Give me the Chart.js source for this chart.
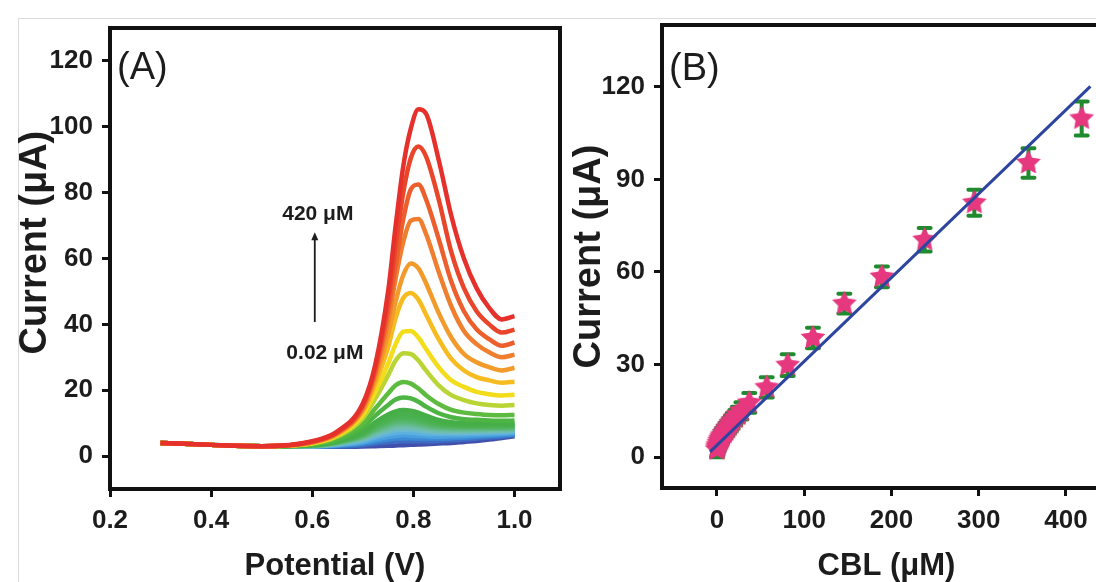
<!DOCTYPE html>
<html lang="en">
<head>
<meta charset="UTF-8">
<title>CBL DPV response</title>
<script src="https://cdn.jsdelivr.net/npm/chart.js"></script>
<style>
    html, body { margin: 0; padding: 0; background: #fff; overflow: hidden; width: 1096px; height: 582px; }
    #edge { position: absolute; left: 18px; top: 18px; width: 1078px; height: 564px; border-top: 1px solid #dcdcdc; border-left: 1px solid #dcdcdc; }
    #chartA { position: absolute; left: 0; top: 0; }
    #chartB { position: absolute; left: 566px; top: 0; }
</style>
</head>
<body>
<div id="edge"></div>
<canvas id="chartA" width="566" height="582"></canvas>
<canvas id="chartB" width="550" height="582"></canvas>
<script>
// ---- panel A: DPV curves, 0.02 uM (bottom) ... 420 uM (top) ----
var potential = [0.30, 0.40, 0.50, 0.60, 0.65, 0.70, 0.725, 0.75, 0.765, 0.78, 0.795, 0.81, 0.825, 0.85, 0.875, 0.90, 0.925, 0.95, 0.975, 1.00];

// first row = highest concentration (drawn on top)
var dpvCurrents = [
    [4.0, 3.4, 3.0, 4.5, 7.5, 16, 28, 50, 70, 88, 99.5, 105.3, 104, 90, 73, 60, 51, 45, 41.5, 42.5],
    [4.0, 3.4, 3.0, 4.4, 7.3, 15.5, 27, 47, 64, 80, 90.5, 94, 91, 78, 62, 51, 44, 40, 37.5, 38.4],
    [4.0, 3.4, 3.0, 4.3, 7.1, 15, 26, 44, 58, 72, 81, 82.5, 78, 66, 53, 44, 38.5, 35.5, 33.5, 34.5],
    [4.0, 3.4, 3.0, 4.2, 7.0, 14.5, 25, 41, 54, 65, 71.5, 72, 67.5, 56, 45.5, 38, 34, 31.5, 30, 30.8],
    [4.0, 3.4, 3.0, 4.1, 6.8, 14, 23.5, 37, 47, 55, 58.5, 57, 52.5, 43.5, 36, 31, 28.5, 27, 26, 26.8],
    [4.0, 3.4, 3.0, 4.0, 6.6, 13.5, 22, 33, 42, 48, 49.5, 47.5, 43, 35.5, 29.5, 26, 24, 23, 22.3, 22.6],
    [4.0, 3.4, 3.0, 3.9, 6.3, 12.5, 19.5, 28, 34, 37.8, 38, 36, 32.5, 27, 23, 21, 19.5, 18.8, 18.4, 18.6],
    [4.0, 3.4, 3.0, 3.8, 6.0, 11.5, 17.5, 24.5, 29, 31.2, 31, 29, 26, 21.5, 18.5, 17, 16, 15.5, 15.3, 15.5],
    [4.0, 3.4, 3.0, 3.6, 5.5, 10, 14.5, 19, 21.5, 22.5, 22, 20.5, 18.5, 15.8, 14, 13.2, 12.8, 12.5, 12.4, 12.5],
    [4.0, 3.4, 3.0, 3.5, 5.0, 8.8, 12.3, 15.5, 17.2, 17.8, 17.5, 16.5, 15, 13, 11.8, 11.2, 11, 10.8, 10.7, 10.8],
    [4.0, 3.4, 3.0, 3.4, 4.6, 7.5, 10.3, 12.6, 13.6, 14, 13.8, 13.2, 12.3, 11, 10.3, 10, 9.9, 9.9, 9.9, 10],
    [4.0, 3.4, 3.0, 3.3, 4.4, 7.0, 9.6, 11.6, 12.5, 12.8, 12.6, 12.1, 11.3, 10.3, 9.8, 9.6, 9.5, 9.5, 9.5, 9.6],
    [4.0, 3.4, 3.0, 3.3, 4.3, 6.7, 9.1, 10.9, 11.8, 12, 11.8, 11.3, 10.6, 9.8, 9.4, 9.2, 9.2, 9.2, 9.2, 9.3],
    [4.0, 3.4, 3.0, 3.2, 4.2, 6.4, 8.6, 10.3, 11.1, 11.3, 11.1, 10.7, 10.1, 9.4, 9.1, 8.9, 8.9, 8.9, 8.9, 9.0],
    [4.0, 3.4, 3.0, 3.2, 4.1, 6.1, 8.1, 9.7, 10.4, 10.6, 10.4, 10.0, 9.5, 8.9, 8.7, 8.6, 8.6, 8.6, 8.6, 8.7],
    [4.0, 3.4, 3.0, 3.1, 4.0, 5.8, 7.7, 9.1, 9.8, 10, 9.8, 9.5, 9.0, 8.5, 8.3, 8.2, 8.2, 8.3, 8.3, 8.4],
    [4.0, 3.4, 3.0, 3.1, 3.9, 5.5, 7.2, 8.5, 9.2, 9.4, 9.2, 8.9, 8.5, 8.1, 7.9, 7.9, 7.9, 8.0, 8.0, 8.1],
    [4.0, 3.4, 3.0, 3.0, 3.7, 5.2, 6.7, 7.9, 8.5, 8.7, 8.5, 8.3, 8.0, 7.6, 7.5, 7.5, 7.6, 7.6, 7.7, 7.8],
    [4.0, 3.4, 3.0, 3.0, 3.6, 4.9, 6.2, 7.3, 7.8, 8.0, 7.9, 7.7, 7.4, 7.1, 7.1, 7.1, 7.2, 7.3, 7.4, 7.5],
    [4.0, 3.4, 3.0, 3.0, 3.4, 4.5, 5.7, 6.6, 7.0, 7.2, 7.1, 6.9, 6.7, 6.6, 6.6, 6.7, 6.8, 6.9, 7.0, 7.2],
    [4.0, 3.4, 3.0, 2.9, 3.3, 4.1, 5.0, 5.8, 6.1, 6.3, 6.2, 6.1, 6.0, 5.9, 6.0, 6.1, 6.3, 6.5, 6.7, 6.9],
    [4.0, 3.4, 3.0, 2.9, 3.1, 3.7, 4.4, 5.0, 5.3, 5.4, 5.4, 5.3, 5.3, 5.3, 5.4, 5.6, 5.8, 6.1, 6.3, 6.6],
    [4.0, 3.4, 3.0, 2.8, 2.9, 3.3, 3.8, 4.2, 4.4, 4.5, 4.5, 4.5, 4.5, 4.6, 4.8, 5.0, 5.3, 5.6, 5.9, 6.3],
    [4.0, 3.4, 3.0, 2.8, 2.8, 2.9, 3.0, 3.1, 3.2, 3.3, 3.4, 3.5, 3.6, 3.8, 4.0, 4.3, 4.6, 5.0, 5.5, 6.0]
];

var curveColors = ['#e5302b', '#e9452a', '#ec5f2c', '#ef7e2f', '#f29a2a', '#f6bb1f', '#f3dc1a', '#b9d535',
    '#5dbb3f', '#4db543', '#46ae47', '#48b04c', '#4cb254', '#52b461', '#59b773', '#62ba88',
    '#6bbd9f', '#70bdb6', '#6ab9cf', '#5cb0e0', '#4aa0df', '#3c89d5', '#3c6cc3', '#4150ac'];

var ticksAx = [0.2, 0.4, 0.6, 0.8, 1.0];
var ticksAy = [0, 20, 40, 60, 80, 100, 120];

// ---- panel B: calibration plot ----
var cbl = [0.02, 0.5, 1, 2, 3, 4, 5, 6, 8, 10, 12, 14, 16, 18, 21, 24, 28, 37, 57, 81, 110, 146, 189, 238, 295, 357, 418];
var peakCurrent = [2.5, 3.2, 3.8, 4.5, 5.2, 5.8, 6.4, 7.0, 7.8, 8.6, 9.4, 10.2, 11.0, 11.8, 12.8, 13.8, 15.0, 17.6, 22.6, 29.8, 38.6, 49.7, 58.4, 70.4, 82.4, 95.3, 109.7];
var peakError = [2.5, 2.5, 2.5, 2.5, 2.5, 2.5, 2.5, 2.5, 2.5, 2.5, 2.5, 2.5, 2.5, 2.5, 2.5, 2.5, 2.8, 3.2, 3.3, 3.5, 3.3, 3.2, 3.4, 3.8, 4.2, 4.8, 5.5];
var fitX = [-8, 428];
var fitY = [1.7, 120.1];

var ticksBx = [0, 100, 200, 300, 400];
var ticksBy = [0, 30, 60, 90, 120];

var tickFont = { family: "'Liberation Sans', Arial, sans-serif", size: 26, weight: 'bold' };
var titleFamily = "'Liberation Sans', Arial, sans-serif";

Chart.defaults.animation = false;
Chart.defaults.color = '#1c1c1c';

function fixedTicks(list) {
    return function(scale) {
        scale.ticks = list.map(function(v) { return { value: v }; });
    };
}

// fixed axis band, and no extra room reserved for overhanging end labels
function fixedHeight(h) {
    return function(s) {
        s.height = h;
        s.paddingLeft = 0;
        s.paddingRight = 0;
    };
}

function axisGrid() {
    return { drawOnChartArea: false, drawTicks: true, tickLength: 8, tickWidth: 3, tickColor: '#111' };
}

// box around the plot area
var framePlugin = {
    id: 'frame',
    afterDraw: function(chart) {
        var a = chart.chartArea, ctx = chart.ctx;
        ctx.save();
        ctx.strokeStyle = '#111';
        ctx.lineWidth = 4;
        ctx.strokeRect(a.left, a.top, a.right - a.left, a.bottom - a.top);
        ctx.restore();
    }
};

var notesA = {
    id: 'notesA',
    afterDraw: function(chart) {
        var ctx = chart.ctx, x = chart.scales.x, y = chart.scales.y;
        ctx.save();
        ctx.fillStyle = '#1c1c1c';
        ctx.font = '500 38px ' + titleFamily;
        ctx.textBaseline = 'middle';
        ctx.textAlign = 'left';
        ctx.fillText('(A)', x.getPixelForValue(0.214), y.getPixelForValue(117.8));

        ctx.font = 'bold 21px ' + titleFamily;
        ctx.textAlign = 'center';
        ctx.fillText('420 μM', x.getPixelForValue(0.611), y.getPixelForValue(73.5));
        ctx.fillText('0.02 μM', x.getPixelForValue(0.625), y.getPixelForValue(31.3));

        // arrow
        var ax = x.getPixelForValue(0.605);
        var y0 = y.getPixelForValue(40.7), y1 = y.getPixelForValue(68);
        ctx.strokeStyle = '#1c1c1c';
        ctx.lineWidth = 1.8;
        ctx.beginPath();
        ctx.moveTo(ax, y0);
        ctx.lineTo(ax, y1 + 6);
        ctx.stroke();
        ctx.beginPath();
        ctx.moveTo(ax, y1);
        ctx.lineTo(ax - 3.5, y1 + 8);
        ctx.lineTo(ax + 3.5, y1 + 8);
        ctx.closePath();
        ctx.fill();
        ctx.restore();
    }
};

var errorBars = {
    id: 'errorBars',
    beforeDatasetsDraw: function(chart) {
        var ctx = chart.ctx, x = chart.scales.x, y = chart.scales.y;
        ctx.save();
        ctx.strokeStyle = '#1f8a2e';
        ctx.lineWidth = 4;
        ctx.lineCap = 'round';
        for (var i = 0; i < cbl.length; i++) {
            var px = x.getPixelForValue(cbl[i]);
            var top = y.getPixelForValue(peakCurrent[i] + peakError[i]);
            var bot = y.getPixelForValue(peakCurrent[i] - peakError[i]);
            ctx.beginPath();
            ctx.moveTo(px, top); ctx.lineTo(px, bot);
            ctx.moveTo(px - 6, top); ctx.lineTo(px + 6, top);
            ctx.moveTo(px - 6, bot); ctx.lineTo(px + 6, bot);
            ctx.stroke();
        }
        ctx.restore();
    }
};

var notesB = {
    id: 'notesB',
    afterDraw: function(chart) {
        var ctx = chart.ctx, x = chart.scales.x, y = chart.scales.y;
        ctx.save();
        ctx.fillStyle = '#1c1c1c';
        ctx.font = '500 38px ' + titleFamily;
        ctx.textBaseline = 'middle';
        ctx.fillText('(B)', x.getPixelForValue(-55), y.getPixelForValue(125.5));
        ctx.restore();
    }
};

function makeStar(r, color) {
    var c = document.createElement('canvas');
    c.width = c.height = r * 2 + 2;
    var g = c.getContext('2d');
    g.translate(r + 1, r + 1);
    g.beginPath();
    for (var i = 0; i < 10; i++) {
        var rad = i % 2 ? r * 0.5 : r;
        var ang = -Math.PI / 2 + i * Math.PI / 5;
        g.lineTo(rad * Math.cos(ang), rad * Math.sin(ang));
    }
    g.closePath();
    g.fillStyle = color;
    g.fill();
    return c;
}

// ---- chart A ----
var datasetsA = dpvCurrents.map(function(row, i) {
    return {
        data: row.map(function(v, j) { return { x: potential[j], y: v }; }),
        borderColor: curveColors[i],
        borderWidth: 4.5,
        pointRadius: 0,
        cubicInterpolationMode: 'monotone',
        fill: false
    };
});

var chartA = new Chart(document.getElementById('chartA'), {
    type: 'line',
    data: { datasets: datasetsA },
    options: {
        responsive: false,
        devicePixelRatio: 1,
        layout: { autoPadding: false, padding: { left: 0, top: 28, right: 6, bottom: 0 } },
        plugins: { legend: { display: false }, tooltip: { enabled: false } },
        scales: {
            x: {
                type: 'linear', min: 0.2, max: 1.09,
                afterBuildTicks: fixedTicks(ticksAx),
                afterFit: fixedHeight(93),
                grid: axisGrid(),
                border: { display: false },
                ticks: { font: tickFont, padding: 8, maxRotation: 0, callback: function(v) { return v.toFixed(1); } },
                title: { display: true, text: 'Potential (V)', padding: 0, font: { family: titleFamily, size: 31, weight: 'bold', lineHeight: 1 } }
            },
            y: {
                type: 'linear', min: -10, max: 130,
                afterBuildTicks: fixedTicks(ticksAy),
                afterFit: function(s) { s.width = 110; },
                grid: axisGrid(),
                border: { display: false },
                ticks: { font: tickFont, padding: 9 },
                title: { display: true, text: '   Current (μA)', padding: { top: 17 }, font: { family: titleFamily, size: 38, weight: 'bold', lineHeight: 1 } }
            }
        }
    },
    plugins: [framePlugin, notesA]
});

// ---- chart B (canvas runs past the right edge of the picture) ----
var chartB = new Chart(document.getElementById('chartB'), {
    type: 'line',
    data: {
        datasets: [
            {
                data: fitX.map(function(v, i) { return { x: v, y: fitY[i] }; }),
                borderColor: '#2e45a0',
                borderWidth: 3,
                pointRadius: 0,
                fill: false
            },
            {
                data: cbl.map(function(v, i) { return { x: v, y: peakCurrent[i] }; }),
                showLine: false,
                pointStyle: makeStar(13, '#e6387f'),
                pointRadius: 13
            }
        ]
    },
    options: {
        responsive: false,
        devicePixelRatio: 1,
        layout: { autoPadding: false, padding: { left: 0, top: 25, right: 5, bottom: 0 } },
        plugins: { legend: { display: false }, tooltip: { enabled: false } },
        scales: {
            x: {
                type: 'linear', min: -63, max: 451.6,
                afterBuildTicks: fixedTicks(ticksBx),
                afterFit: fixedHeight(94),
                grid: axisGrid(),
                border: { display: false },
                ticks: { font: tickFont, padding: 9, maxRotation: 0 },
                title: { display: true, text: 'CBL (μM)', padding: 0, font: { family: titleFamily, size: 31, weight: 'bold', lineHeight: 1 } }
            },
            y: {
                type: 'linear', min: -10, max: 140,
                afterBuildTicks: fixedTicks(ticksBy),
                afterFit: function(s) { s.width = 96; },
                grid: axisGrid(),
                border: { display: false },
                ticks: { font: tickFont, padding: 9 },
                title: { display: true, text: 'Current (μA)', padding: { top: 5 }, font: { family: titleFamily, size: 38, weight: 'bold', lineHeight: 1 } }
            }
        }
    },
    plugins: [framePlugin, errorBars, notesB]
});
</script>
</body>
</html>
